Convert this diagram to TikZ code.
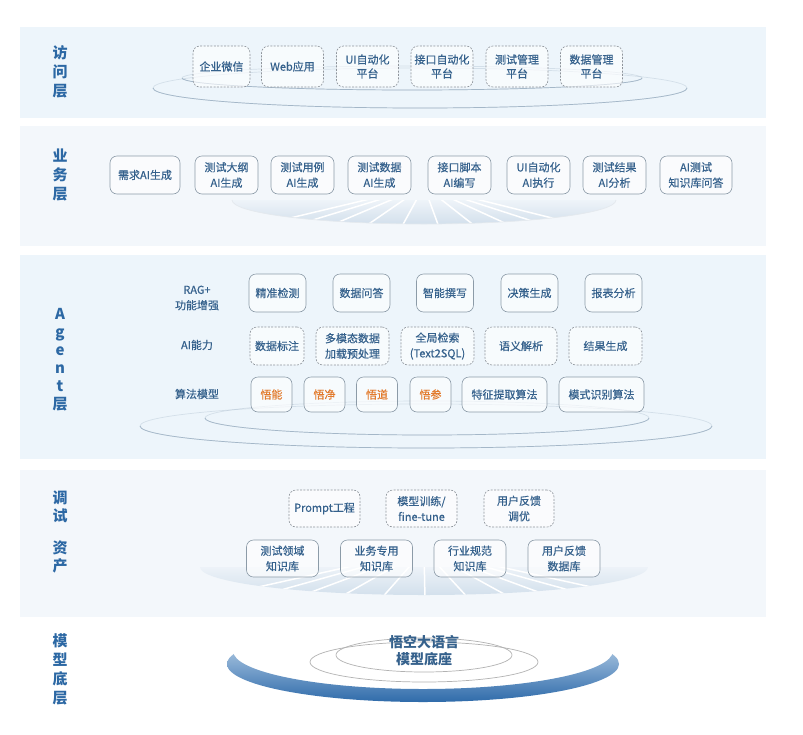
\documentclass[tikz,border=0pt]{standalone}
\usepackage{fontspec}
\setmainfont{Noto Sans CJK SC}
\newfontfamily\medfont{Noto Sans CJK SC}[FakeBold=0.5]
\usepackage{tikz}
\usetikzlibrary{positioning}
\usetikzlibrary{calc}
\usetikzlibrary{backgrounds}

\definecolor{panelA}{HTML}{EDF5FB}
\definecolor{panelB}{HTML}{F3F7FB}
\definecolor{txtblue}{HTML}{35618C}
\definecolor{lblblue}{HTML}{2C68A4}
\definecolor{boxgray}{HTML}{8C9BA8}
\definecolor{dashgray}{HTML}{8E949B}
\definecolor{ringgray}{HTML}{A4B7C8}
\definecolor{wuorange}{HTML}{E27A2C}
\definecolor{tilecol}{HTML}{D3E0EC}
\definecolor{baseA}{HTML}{D6E6F5}
\definecolor{baseB}{HTML}{8DB5DC}
\definecolor{baseC}{HTML}{2F6BAA}

\begin{document}
\begin{tikzpicture}[x=1pt, y=-1pt]
% -------------------------------------------------
\tikzset{
  base/.style={align=center, text=txtblue, inner sep=1pt,
    font=\medfont\fontsize{11pt}{15.5pt}\selectfont},
  proc/.style={base, draw=boxgray, line width=0.6pt, rounded corners=7pt,
    fill=white, fill opacity=0.6, text opacity=1},
  dproc/.style={proc, draw=dashgray, dash pattern=on 2pt off 1.4pt},
  acc/.style={dproc, minimum width=62pt, minimum height=41pt,
    font=\medfont\fontsize{11pt}{14pt}\selectfont},
  biz/.style={proc, minimum width=63pt, minimum height=38pt},
  ag/.style={proc, minimum width=57pt, minimum height=38pt},
  agd/.style={dproc, minimum width=73pt, minimum height=38pt},
  alg/.style={proc, minimum width=41pt, minimum height=35pt},
  wu/.style={alg, text=wuorange},
  tun/.style={dproc, minimum width=71pt, minimum height=37pt},
  kb/.style={proc, minimum width=72pt, minimum height=37pt},
  rowlabel/.style={base},
  layer/.style={align=center, text=lblblue,
    font=\fontsize{15pt}{19pt}\selectfont\bfseries},
  core/.style={align=center, text=txtblue,
    font=\fontsize{14pt}{17pt}\selectfont\bfseries},
  ring/.style={draw=ringgray, line width=0.7pt},
  fadering/.style={ring, draw opacity=0.35}
}
% -------------------------------------------------
\useasboundingbox (0,0) rectangle (803,734);

\begin{pgfonlayer}{background}
  \fill [white] (0,0) rectangle (803,734);
  \fill [panelA] (20,27) rectangle (766,118);   % access
  \fill [panelB] (20,126) rectangle (766,246);  % business
  \fill [panelA] (20,255) rectangle (766,459);  % agent
  \fill [panelB] (20,470) rectangle (766,617);  % tuning
\end{pgfonlayer}

% Decorations
\draw [fadering] (412,78) ellipse [x radius=230, y radius=12];
\draw [ring] (182,78) arc [start angle=180, end angle=0, x radius=230, y radius=12];
\draw [fadering] (420,88) ellipse [x radius=267, y radius=20];
\draw [ring] (153,88) arc [start angle=180, end angle=0, x radius=267, y radius=20];

\begin{scope}
  \clip (232,200) arc [start angle=180, end angle=0, x radius=192, y radius=24] -- cycle;
  \shade [top color=panelB, bottom color=tilecol] (232,196) rectangle (616,224);
  \foreach \x in {240,280,...,620}
    \draw [white, line width=1.5pt] (424,186) -- (\x,230);
\end{scope}
\draw [white!70!ringgray, line width=0.7pt] (232,200) arc [start angle=180, end angle=0, x radius=192, y radius=24];

\draw [fadering] (427,418) ellipse [x radius=222, y radius=17];
\draw [ring] (205,418) arc [start angle=180, end angle=0, x radius=222, y radius=17];
\draw [fadering] (426,426) ellipse [x radius=286, y radius=22];
\draw [ring] (140,426) arc [start angle=180, end angle=0, x radius=286, y radius=22];

\begin{scope}
  \clip (200,567) arc [start angle=180, end angle=0, x radius=224, y radius=28] -- cycle;
  \shade [top color=panelB, bottom color=tilecol] (200,560) rectangle (648,595);
  \foreach \x in {200,245,...,660}
    \draw [white, line width=1.5pt] (424,550) -- (\x,600);
\end{scope}

\begin{scope}[even odd rule]
  \clip (200,600) rectangle (650,720)
    (423,651) ellipse [x radius=190, y radius=38];
  \shade [top color=baseA, middle color=baseB, bottom color=baseC]
    (423,664) ellipse [x radius=196, y radius=38];
\end{scope}
\draw [ring, draw=gray!60] (424,662) ellipse [x radius=114, y radius=20];
\draw [ring, draw=gray!60] (424,655) ellipse [x radius=88, y radius=17];

% Layer labels
\node [layer] (l0) at (60,72) {访\\问\\层};
\node [layer] (l1) at (60,175) {业\\务\\层};
\node [layer, font=\fontsize{15pt}{18pt}\selectfont\bfseries] (l2) at (60,360) {A\\g\\e\\n\\t\\层};
\node [layer, font=\fontsize{15pt}{18pt}\selectfont\bfseries] (l3) at (60,532) {调\\试\\[14pt]资\\产};
\node [layer] (l4) at (60,669) {模\\型\\底\\层};

% Access layer
\node [acc, minimum width=57pt] (a0) at (221.5,66.5) {企业微信};
\node [acc] (a1) at (292.5,66.5) {Web应用};
\node [acc] (a2) at (367.5,66.5) {UI自动化\\平台};
\node [acc] (a3) at (442,66.5) {接口自动化\\平台};
\node [acc] (a4) at (517,66.5) {测试管理\\平台};
\node [acc] (a5) at (591.5,66.5) {数据管理\\平台};

% Business layer
\node [biz, minimum width=70pt] (s0) at (145,175) {需求AI生成};
\node [biz] (s1) at (226.5,175) {测试大纲\\AI生成};
\node [biz] (s2) at (302.5,175) {测试用例\\AI生成};
\node [biz] (s3) at (379.5,175) {测试数据\\AI生成};
\node [biz] (s4) at (459.5,175) {接口脚本\\AI编写};
\node [biz] (s5) at (538.5,175) {UI自动化\\AI执行};
\node [biz] (s6) at (614.5,175) {测试结果\\AI分析};
\node [biz, minimum width=72pt] (s7) at (696,175) {AI测试\\知识库问答};

% Agent layer
\node [rowlabel] (r0) at (197,298) {RAG+\\功能增强};
\node [rowlabel] (r1) at (197,345) {AI能力};
\node [rowlabel] (r2) at (197,394) {算法模型};

\node [ag] (g0) at (277.5,293) {精准检测};
\node [ag] (g1) at (361.5,293) {数据问答};
\node [ag] (g2) at (445,293) {智能撰写};
\node [ag] (g3) at (529.5,293) {决策生成};
\node [ag] (g4) at (613.5,293) {报表分析};

\node [agd, minimum width=54pt] (c0) at (277,346) {数据标注};
\node [agd] (c1) at (352.5,346) {多模态数据\\加载预处理};
\node [agd] (c2) at (437.5,346) {全局检索\\(Text2SQL)};
\node [agd, minimum width=72pt] (c3) at (521,346) {语义解析};
\node [agd] (c4) at (605.5,346) {结果生成};

\node [wu] (m0) at (271.5,394.5) {悟能};
\node [wu] (m1) at (324.5,394.5) {悟净};
\node [wu] (m2) at (377,394.5) {悟道};
\node [wu] (m3) at (430.5,394.5) {悟参};
\node [alg, minimum width=85pt] (m4) at (504.5,394.5) {特征提取算法};
\node [alg, minimum width=85pt] (m5) at (601.5,394.5) {模式识别算法};

% Tuning assets
\node [tun] (t0) at (324.5,508.5) {Prompt工程};
\node [tun] (t1) at (421.5,508.5) {模型训练/\\fine-tune};
\node [tun, minimum width=70pt] (t2) at (519,508.5) {用户反馈\\调优};

\node [kb] (k0) at (282.5,558.5) {测试领域\\知识库};
\node [kb] (k1) at (376.5,558.5) {业务专用\\知识库};
\node [kb] (k2) at (470,558.5) {行业规范\\知识库};
\node [kb] (k3) at (564,558.5) {用户反馈\\数据库};

% Model base
\node [core] (b0) at (424,651) {悟空大语言\\模型底座};

\end{tikzpicture}
\end{document}
